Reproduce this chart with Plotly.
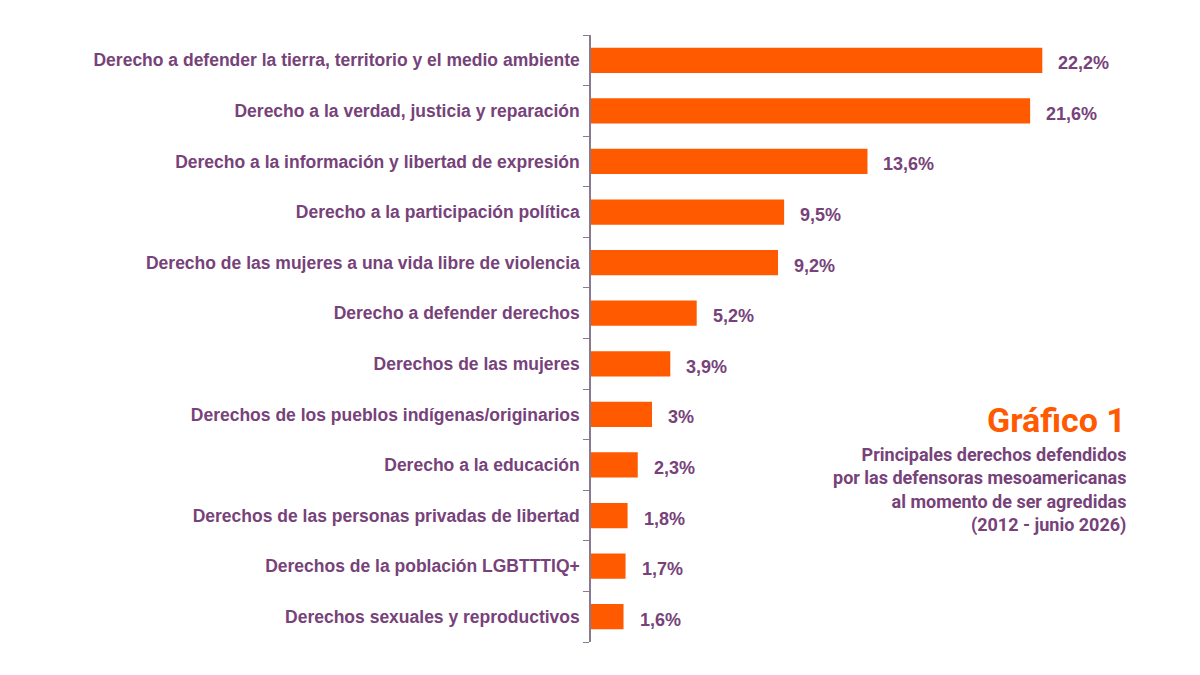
import plotly.graph_objects as go

categorias = [
    "Derecho a defender la tierra, territorio y el medio ambiente",
    "Derecho a la verdad, justicia y reparación",
    "Derecho a la información y libertad de expresión",
    "Derecho a la participación política",
    "Derecho de las mujeres a una vida libre de violencia",
    "Derecho a defender derechos",
    "Derechos de las mujeres",
    "Derechos de los pueblos indígenas/originarios",
    "Derecho a la educación",
    "Derechos de las personas privadas de libertad",
    "Derechos de la población LGBTTTIQ+",
    "Derechos sexuales y reproductivos",
]
valores = [22.2, 21.6, 13.6, 9.5, 9.2, 5.2, 3.9, 3.0, 2.3, 1.8, 1.7, 1.6]
etiquetas = ["22,2%", "21,6%", "13,6%", "9,5%", "9,2%", "5,2%", "3,9%", "3%",
             "2,3%", "1,8%", "1,7%", "1,6%"]

morado = "#77427a"
naranja = "#ff5a00"

fig = go.Figure(go.Bar(
    x=valores, y=categorias, orientation="h", width=0.5,
    marker=dict(color=naranja, line=dict(width=0)),
))

# value labels to the right of each bar
for v, c, t in zip(valores, categorias, etiquetas):
    fig.add_annotation(x=v, y=c, text="<b>%s</b>" % t, showarrow=False,
                       xanchor="left", xshift=14, yshift=-3,
                       font=dict(size=18, color=morado))

fig.add_annotation(xref="paper", yref="paper", x=0.87, y=0.33, xanchor="right", yanchor="bottom",
                   text="<b>Gráfico 1</b>", showarrow=False,
                   font=dict(family="Liberation Sans Narrow, Roboto", size=34, color=naranja))
fig.add_annotation(xref="paper", yref="paper", x=0.87, y=0.33, xanchor="right", yanchor="top",
                   align="right", showarrow=False,
                   text="<b>Principales derechos defendidos<br>por las defensoras mesoamericanas<br>"
                        "al momento de ser agredidas<br>(2012 - junio 2026)</b>",
                   font=dict(family="Liberation Sans Narrow, Roboto", size=18, color=morado))

fig.update_yaxes(autorange="reversed", showline=True, linecolor="#8a7a90", linewidth=1.5,
                 ticks="outside", tickson="boundaries", ticklen=6, tickcolor="#8a7a90",
                 ticklabelstandoff=6,
                 tickfont=dict(family="Liberation Sans, Arial", size=17.5, color=morado),
                 categoryorder="array", categoryarray=categorias)
fig.update_yaxes(ticktext=["<b>%s</b>" % c for c in categorias], tickvals=categorias)
fig.update_xaxes(range=[0, 30.35], visible=False)

fig.update_layout(width=1200, height=675, plot_bgcolor="white", paper_bgcolor="white",
                  margin=dict(l=583, r=0, t=27, b=41), showlegend=False,
                  font=dict(family="Liberation Sans, Arial"))
fig.write_html("out.html")
